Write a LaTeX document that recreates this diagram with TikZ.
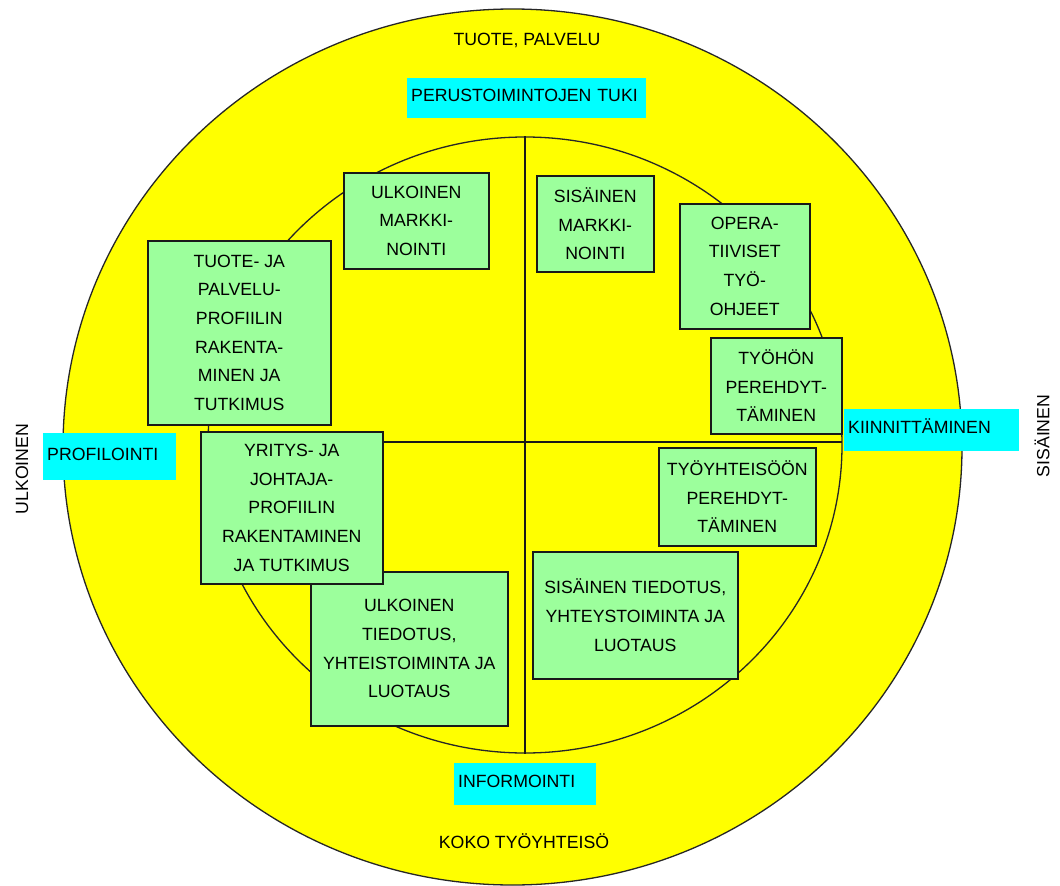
\documentclass[tikz,border=0pt]{standalone}
\usepackage{fontspec}
\setmainfont{Liberation Sans}
\usetikzlibrary{shapes.geometric}
\definecolor{ylw}{HTML}{FFFF00}
\definecolor{grn}{HTML}{9CFF9C}
\definecolor{cyn}{HTML}{00FFFF}
\begin{document}
\begin{tikzpicture}[x=1pt,y=-1pt,
  lbl/.style={font=\fontsize{17.7}{28.7}\selectfont, inner sep=0pt},
  gbox/.style={draw=black!90, line width=1.5pt, fill=grn, align=center, inner sep=0pt,
     anchor=north west, font=\fontsize{17.7}{28.7}\selectfont},
  cbox/.style={fill=cyn, inner xsep=4pt, inner ysep=0pt, anchor=north west, align=left,
     text height=13pt, text depth=6pt, font=\fontsize{17.7}{28.7}\selectfont},
  ring/.style={ellipse, draw=black!85, line width=1.3pt, inner sep=0pt},
  axisline/.style={draw=black!90, line width=1.6pt}]

\useasboundingbox (0,0) rectangle (1060,886);
\fill[white] (0,0) rectangle (1060,886);

% rings
\node[ring, fill=ylw, minimum width=899pt, minimum height=876pt] (outer) at (512.5,447) {};
\node[ring, minimum width=634pt, minimum height=616pt] (inner) at (525,445) {};

% quadrant lines
\coordinate (hl) at (208,442);
\coordinate (hr) at (842,442);
\draw[axisline] (inner.north) -- (inner.south);
\draw[axisline] (hl) -- (hr);

% green boxes
\node[gbox, minimum width=145pt, minimum height=96pt] (um) at (343,172)
  {ULKOINEN\\MARKKI-\\NOINTI};
\node[gbox, minimum width=183pt, minimum height=184pt] (tp) at (147,240)
  {TUOTE- JA\\PALVELU-\\PROFIILIN\\RAKENTA-\\MINEN JA\\TUTKIMUS};
\node[gbox, minimum width=117pt, minimum height=96pt] (sm) at (536,175)
  {SISÄINEN\\MARKKI-\\NOINTI};
\node[gbox, minimum width=130pt, minimum height=125pt] (op) at (679,203)
  {OPERA-\\TIIVISET\\TYÖ-\\OHJEET};
\node[gbox, minimum width=131pt, minimum height=96pt] (tyo) at (710,337)
  {TYÖHÖN\\PEREHDYT-\\TÄMINEN};
\node[gbox, minimum width=197pt, minimum height=154pt] (ut) at (310,571)
  {ULKOINEN\\TIEDOTUS,\\YHTEISTOIMINTA JA\\LUOTAUS};
\node[gbox, minimum width=182pt, minimum height=152pt] (yr) at (200,431)
  {YRITYS- JA\\JOHTAJA-\\PROFIILIN\\RAKENTAMINEN\\JA TUTKIMUS};
\node[gbox, minimum width=157pt, minimum height=98pt] (tyy) at (658,447)
  {TYÖYHTEISÖÖN\\PEREHDYT-\\TÄMINEN};
\node[gbox, minimum width=205pt, minimum height=127pt] (st) at (532,551)
  {SISÄINEN TIEDOTUS,\\YHTEYSTOIMINTA JA\\LUOTAUS};

% cyan labels
\node[cbox, text width=231pt, minimum height=40pt] (pt) at (407,78) {PERUSTOIMINTOJEN TUKI};
\node[cbox, text width=167pt, minimum height=42pt] (kn) at (844,409) {KIINNITTÄMINEN};
\node[cbox, text width=125pt, minimum height=47pt] (pr) at (43,433) {PROFILOINTI};
\node[cbox, text width=134pt, minimum height=42pt] (inf) at (454,763) {INFORMOINTI};

% plain labels
\node[lbl, anchor=base] (tuote) at (527,45) {TUOTE, PALVELU};
\node[lbl, anchor=base] (koko) at (524,848) {KOKO TYÖYHTEISÖ};
\node[lbl, rotate=90] (ulk) at (22,469) {ULKOINEN};
\node[lbl, rotate=90] (sis) at (1042,436) {SISÄINEN};
\end{tikzpicture}
\end{document}
